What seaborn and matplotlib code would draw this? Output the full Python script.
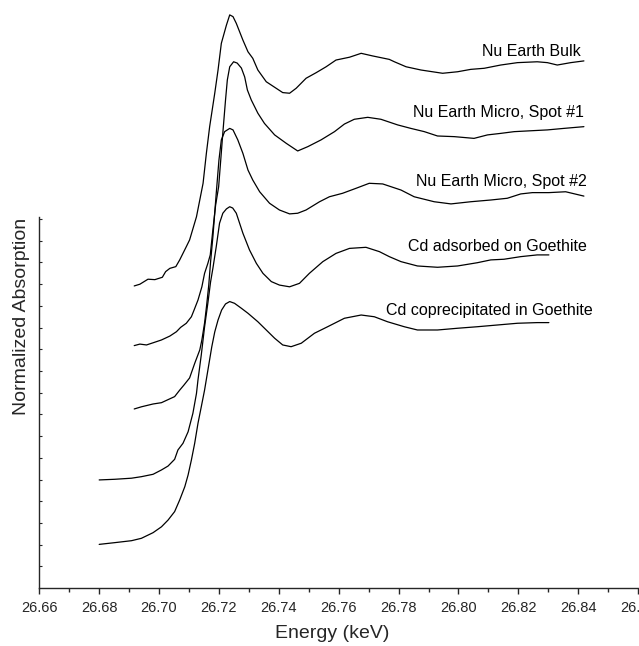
import numpy as np
import pandas as pd
import seaborn as sns
import matplotlib
matplotlib.use("Agg")
import matplotlib.pyplot as plt
from matplotlib.ticker import MultipleLocator, FormatStrFormatter

# ===============================
# DATA (stacked with offsets)
# ===============================
bulk_e = [26.6917, 26.6936, 26.6963, 26.6986, 26.7011, 26.7022, 26.7036, 26.7056, 26.7069, 26.7091,
          26.7102, 26.7125, 26.7147, 26.7158, 26.7169, 26.7186, 26.7197, 26.7208, 26.7225, 26.7236,
          26.7247, 26.7258, 26.7280, 26.7297, 26.7313, 26.7330, 26.7358, 26.7391, 26.7413, 26.7436,
          26.7458, 26.7491, 26.7525, 26.7558, 26.7591, 26.7636, 26.7675, 26.7713, 26.7769, 26.7786,
          26.7825, 26.7875, 26.7947, 26.7997, 26.8041, 26.8086, 26.8141, 26.8197, 26.8263, 26.8297,
          26.8330, 26.8375, 26.8419]
bulk_mu = [1.392, 1.400, 1.423, 1.421, 1.432, 1.458, 1.473, 1.481, 1.512, 1.573,
           1.604, 1.711, 1.865, 2.003, 2.126, 2.280, 2.387, 2.510, 2.594, 2.641,
           2.633, 2.602, 2.525, 2.471, 2.441, 2.387, 2.333, 2.303, 2.283, 2.280,
           2.303, 2.349, 2.375, 2.402, 2.433, 2.446, 2.464, 2.452, 2.436, 2.425,
           2.402, 2.387, 2.372, 2.379, 2.390, 2.395, 2.410, 2.421, 2.425, 2.421,
           2.410, 2.421, 2.429]

spot1_e = [26.6917, 26.6936, 26.6958, 26.6980, 26.7008, 26.7036, 26.7058, 26.7072, 26.7091, 26.7108,
           26.7117, 26.7130, 26.7143, 26.7152, 26.7163, 26.7171, 26.7179, 26.7189, 26.7199, 26.7206,
           26.7213, 26.7222, 26.7228, 26.7236, 26.7249, 26.7261, 26.7275, 26.7286, 26.7295, 26.7308,
           26.7330, 26.7352, 26.7386, 26.7425, 26.7463, 26.7497, 26.7541, 26.7586, 26.7619, 26.7652,
           26.7697, 26.7741, 26.7797, 26.7841, 26.7886, 26.7930, 26.7986, 26.8052, 26.8097, 26.8141,
           26.8186, 26.8241, 26.8297, 26.8352, 26.8419]
spot1_mu = [1.117, 1.124, 1.120, 1.130, 1.143, 1.161, 1.181, 1.201, 1.220, 1.250,
            1.281, 1.327, 1.388, 1.450, 1.496, 1.535, 1.641, 1.765, 1.849, 1.972,
            2.097, 2.249, 2.341, 2.402, 2.425, 2.419, 2.396, 2.355, 2.295, 2.249,
            2.188, 2.141, 2.088, 2.049, 2.014, 2.034, 2.065, 2.103, 2.138, 2.160,
            2.169, 2.160, 2.134, 2.118, 2.103, 2.083, 2.080, 2.072, 2.088, 2.095,
            2.103, 2.107, 2.111, 2.118, 2.126]

spot2_e = [26.6917, 26.6941, 26.6980, 26.7008, 26.7052, 26.7069, 26.7083, 26.7102, 26.7119, 26.7136,
           26.7143, 26.7152, 26.7159, 26.7166, 26.7172, 26.7180, 26.7191, 26.7200, 26.7208, 26.7219,
           26.7236, 26.7247, 26.7263, 26.7280, 26.7297, 26.7313, 26.7336, 26.7369, 26.7402, 26.7436,
           26.7463, 26.7491, 26.7536, 26.7569, 26.7613, 26.7658, 26.7702, 26.7747, 26.7808, 26.7852,
           26.7919, 26.7975, 26.8041, 26.8108, 26.8163, 26.8208, 26.8247, 26.8302, 26.8358, 26.8419]
spot2_mu = [0.825, 0.835, 0.848, 0.854, 0.882, 0.912, 0.935, 0.968, 1.035, 1.097,
            1.143, 1.221, 1.304, 1.396, 1.502, 1.622, 1.819, 1.972, 2.065, 2.103,
            2.118, 2.111, 2.065, 2.003, 1.926, 1.880, 1.826, 1.773, 1.742, 1.724,
            1.727, 1.742, 1.780, 1.803, 1.819, 1.842, 1.865, 1.862, 1.834, 1.803,
            1.780, 1.770, 1.780, 1.788, 1.796, 1.816, 1.822, 1.822, 1.826, 1.806]

ads_e = [26.6800, 26.6852, 26.6908, 26.6941, 26.6980, 26.7008, 26.7030, 26.7052, 26.7063, 26.7080,
         26.7097, 26.7113, 26.7125, 26.7130, 26.7141, 26.7152, 26.7163, 26.7172, 26.7180, 26.7191,
         26.7202, 26.7213, 26.7225, 26.7236, 26.7246, 26.7258, 26.7280, 26.7302, 26.7325, 26.7347,
         26.7375, 26.7402, 26.7436, 26.7469, 26.7502, 26.7547, 26.7591, 26.7636, 26.7691, 26.7736,
         26.7769, 26.7808, 26.7863, 26.7930, 26.7997, 26.8063, 26.8108, 26.8152, 26.8208, 26.8263,
         26.8302]
ads_mu = [0.498, 0.501, 0.506, 0.513, 0.524, 0.544, 0.562, 0.593, 0.636, 0.667,
          0.720, 0.805, 0.897, 0.959, 1.074, 1.203, 1.313, 1.410, 1.475, 1.573,
          1.681, 1.727, 1.747, 1.757, 1.751, 1.727, 1.635, 1.558, 1.496, 1.450,
          1.412, 1.396, 1.388, 1.404, 1.450, 1.504, 1.542, 1.565, 1.570, 1.550,
          1.527, 1.504, 1.484, 1.478, 1.484, 1.499, 1.512, 1.515, 1.527, 1.535,
          1.535]

copr_e = [26.6800, 26.6852, 26.6908, 26.6941, 26.6980, 26.7008, 26.7030, 26.7052, 26.7069, 26.7086,
          26.7097, 26.7108, 26.7119, 26.7130, 26.7141, 26.7152, 26.7166, 26.7176, 26.7186, 26.7197,
          26.7209, 26.7222, 26.7236, 26.7252, 26.7275, 26.7297, 26.7330, 26.7358, 26.7386, 26.7413,
          26.7441, 26.7475, 26.7519, 26.7563, 26.7619, 26.7675, 26.7719, 26.7763, 26.7819, 26.7863,
          26.7930, 26.7997, 26.8063, 26.8130, 26.8197, 26.8263, 26.8302]
copr_mu = [0.201, 0.209, 0.218, 0.229, 0.255, 0.282, 0.313, 0.352, 0.406, 0.467,
           0.521, 0.590, 0.667, 0.759, 0.835, 0.912, 1.028, 1.111, 1.180, 1.235,
           1.281, 1.309, 1.320, 1.312, 1.289, 1.266, 1.227, 1.189, 1.151, 1.120,
           1.112, 1.128, 1.174, 1.204, 1.243, 1.258, 1.250, 1.227, 1.204, 1.189,
           1.189, 1.197, 1.204, 1.212, 1.220, 1.223, 1.223]

labels = ["Nu Earth Bulk", "Nu Earth Micro, Spot #1", "Nu Earth Micro, Spot #2",
          "Cd adsorbed on Goethite", "Cd coprecipitated in Goethite"]
label_e = [26.8410, 26.8419, 26.8427, 26.8428, 26.8450]
label_mu = [2.471, 2.190, 1.872, 1.573, 1.281]

curves = [(bulk_e, bulk_mu), (spot1_e, spot1_mu), (spot2_e, spot2_mu),
          (ads_e, ads_mu), (copr_e, copr_mu)]

# ===============================
# PLOT
# ===============================
sns.set_style("ticks")
plt.rcParams["font.family"] = ["Liberation Sans", "DejaVu Sans"]

fig = plt.figure(figsize=(6.39, 6.46), dpi=100)
ax = fig.add_axes([39.3 / 639, 58 / 646, 599.7 / 639, 588 / 646])

for (e, mu), name in zip(curves, labels):
    df = pd.DataFrame({"Energy": e, "mu": mu})
    sns.lineplot(data=df, x="Energy", y="mu", ax=ax, color="black",
                 linewidth=0.9, sort=False, estimator=None)

for name, xe, ym in zip(labels, label_e, label_mu):
    ax.text(xe, ym, name, ha="right", va="center", fontsize=11.5, color="black")

# axis runs a touch past 26.86 so the last label is cut by the figure edge
ax.set_xlim(26.66, 26.8603)
ax.set_ylim(0, 588 / 217)

ax.spines["top"].set_visible(False)
ax.spines["right"].set_visible(False)
ax.spines["left"].set_bounds(0, 1.71)
ax.spines["left"].set_linewidth(1.0)
ax.spines["bottom"].set_linewidth(1.0)

ax.xaxis.set_major_locator(MultipleLocator(0.02))
ax.xaxis.set_minor_locator(MultipleLocator(0.01))
ax.xaxis.set_major_formatter(FormatStrFormatter("%.2f"))
ax.tick_params(axis="x", which="major", direction="out", length=4.5, width=1.0,
               labelsize=10.5, pad=4.5)
ax.tick_params(axis="x", which="minor", direction="out", length=3, width=1.0)

ax.set_yticks(np.arange(0.1, 1.75, 0.1))
ax.tick_params(axis="y", which="major", direction="in", length=2.5, width=0.8,
               labelleft=False)

ax.set_xlabel("")
ax.set_ylabel("")
fig.text(21.5 / 639, 1 - 316 / 646, "Normalized Absorption", rotation=90,
         ha="center", va="center", fontsize=14)
fig.text(332 / 639, 1 - 633 / 646, "Energy (keV)", ha="center", va="center",
         fontsize=14)

fig.savefig("out.png", dpi=100)
